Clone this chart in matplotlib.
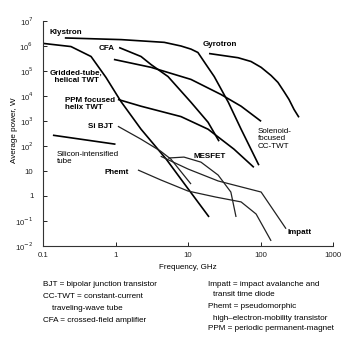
import matplotlib
matplotlib.use("Agg")
import matplotlib.pyplot as plt

# ---- data (frequency GHz, average power W) ----
klystron_f = [0.2, 1.2, 4.7, 8, 11, 13.7, 18, 23, 36, 54, 95]
klystron_p = [2.1e6, 1.8e6, 1.4e6, 1.0e6, 7.5e5, 5.5e5, 1.7e5, 6e4, 5.6e3, 470, 17]

cfa_f = [1.12, 2.25, 3.1, 5.3, 11, 18.9, 26.8]
cfa_p = [8.7e5, 3.8e5, 1.8e5, 6e4, 5.6e3, 890, 155]

cctwt_f = [0.95, 3.1, 11, 28.5, 54, 102]
cctwt_p = [2.9e5, 1.4e5, 4.6e4, 1.15e4, 3.9e3, 970]

gyro_f = [19.5, 49, 74, 102, 140, 174, 211, 247, 290, 339]
gyro_p = [5e5, 3.4e5, 2.4e5, 1.4e5, 6.6e4, 3.5e4, 1.5e4, 7.3e3, 2.9e3, 1.4e3]

grid_f = [0.103, 0.243, 0.46, 0.74, 1.19, 2.25, 5, 9.4, 19.5]
grid_p = [1.26e6, 9.5e5, 3.8e5, 5.5e4, 6e3, 470, 30, 2.5, 0.145]

ppm_f = [1.08, 2.25, 8, 18.9, 43, 81]
ppm_p = [7.3e3, 3.9e3, 1.5e3, 470, 75, 14]

sibjt_f = [1.08, 2.25, 4.2, 5.8, 11]
sibjt_p = [616, 187, 62, 30, 3]

sitube_f = [0.137, 1.0]
sitube_p = [270, 118]

mesfet_f = [5.3, 8.8, 15.1, 26, 39, 46]
mesfet_p = [33, 36, 22.6, 6.9, 1.44, 0.145]

impatt_f = [4.2, 10, 26, 102, 225]
impatt_p = [39, 12, 4, 1.44, 0.049]

phemt_f = [2.04, 4.2, 10, 24, 54, 87, 140]
phemt_p = [11, 4.4, 1.58, 0.91, 0.58, 0.19, 0.016]

xticks = [0.1, 1, 10, 100, 1000]
xticklabels = ["0.1", "1", "10", "100", "1000"]
yticks = [1e-2, 1e-1, 1, 10, 1e2, 1e3, 1e4, 1e5, 1e6, 1e7]
yticklabels = ["10$^{-2}$", "10$^{-1}$", "1", "10", "10$^{2}$", "10$^{3}$",
               "10$^{4}$", "10$^{5}$", "10$^{6}$", "10$^{7}$"]

FONT = ["Liberation Sans Narrow", "Liberation Sans", "DejaVu Sans"]
plt.rcParams["font.family"] = FONT
plt.rcParams["mathtext.fontset"] = "custom"
plt.rcParams["mathtext.rm"] = "Liberation Sans Narrow"
plt.rcParams["mathtext.it"] = "Liberation Sans Narrow"
plt.rcParams["mathtext.bf"] = "Liberation Sans Narrow:bold"

W, H = 348, 345
fig = plt.figure(figsize=(W / 100, H / 100), dpi=100)
ax = fig.add_axes([43 / W, 1 - 246 / H, (333 - 43) / W, (246 - 21) / H])
ax.set_xscale("log")
ax.set_yscale("log")
ax.set_xlim(0.1, 1000)
ax.set_ylim(1e-2, 1e7)
for s in ["top", "right"]:
    ax.spines[s].set_visible(False)
for s in ["left", "bottom"]:
    ax.spines[s].set_linewidth(0.8)
    ax.spines[s].set_color("#333333")
ax.set_xticks(xticks)
ax.set_xticklabels(xticklabels)
ax.set_yticks(yticks)
ax.set_yticklabels(yticklabels)
ax.minorticks_off()
ax.tick_params(direction="in", length=3, width=0.7, labelsize=5.6, colors="#222222")
ax.tick_params(axis="x", pad=4)
ax.tick_params(axis="y", pad=7)

thick = dict(color="black", lw=1.2, solid_capstyle="butt", solid_joinstyle="round")
thin = dict(color="#222222", lw=0.9, solid_capstyle="butt", solid_joinstyle="round")
ax.plot(klystron_f, klystron_p, **thick)
ax.plot(cfa_f, cfa_p, **thick)
ax.plot(cctwt_f, cctwt_p, **thick)
ax.plot(gyro_f, gyro_p, **thick)
ax.plot(grid_f, grid_p, **thick)
ax.plot(ppm_f, ppm_p, **thick)
ax.plot(sibjt_f, sibjt_p, **thin)
ax.plot(sitube_f, sitube_p, **thick)
ax.plot(mesfet_f, mesfet_p, **thin)
ax.plot(impatt_f, impatt_p, **thin)
ax.plot(phemt_f, phemt_p, **thin)

ax.set_xlabel("Frequency, GHz", fontsize=5.8, labelpad=4)
fig.text(15 / W, 1 - 130 / H, "Average power, W", rotation=90, fontsize=5.8,
         ha="center", va="center")

def lab(x, y, s, ha="left", fs=5.8, weight="bold"):
    fig.text(x / W, 1 - y / H, s, fontsize=fs, ha=ha, va="center",
             fontweight=weight, linespacing=1.15)

lab(50, 33, "Klystron")
lab(99, 48, "CFA")
lab(50, 77, "Gridded-tube,\n  helical TWT")
lab(65, 104, "PPM focused\nhelix TWT")
lab(88, 126, "Si BJT")
lab(57, 158, "Silicon-intensified\ntube", weight="normal")
lab(104, 172, "Phemt")
lab(194, 156, "MESFET")
lab(203, 45, "Gyrotron")
lab(258, 139, "Solenoid-\nfocused\nCC-TWT", weight="normal")
lab(287, 232, "Impatt")

def leg(x, y, s):
    fig.text(x / W, 1 - y / H, s, fontsize=5.85, ha="left", va="center")

leg(43, 284, "BJT = bipolar junction transistor")
leg(43, 297, "CC-TWT = constant-current")
leg(52, 308, "traveling-wave tube")
leg(43, 320, "CFA = crossed-field amplifier")
leg(208, 284, "Impatt = impact avalanche and")
leg(213, 295, "transit time diode")
leg(208, 307, "Phemt = pseudomorphic")
leg(213, 318, "high\u2013electron-mobility transistor")
leg(208, 329, "PPM = periodic permanent-magnet")

fig.savefig("out.png", dpi=100)
